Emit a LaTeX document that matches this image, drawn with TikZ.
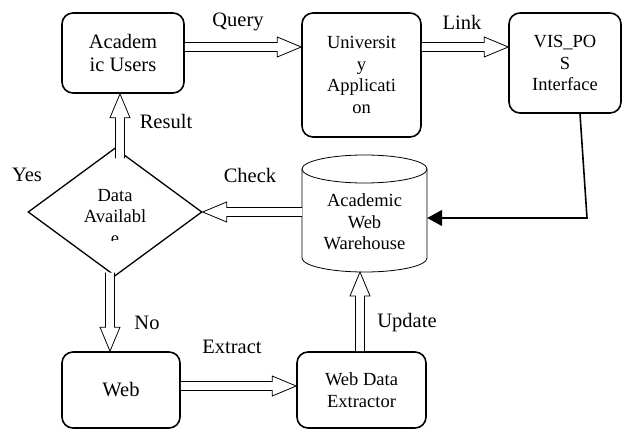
\documentclass[tikz,border=0pt]{standalone}
\usepackage{fontspec}
\setmainfont{Liberation Serif}
\usetikzlibrary{calc,shapes.geometric,arrows.meta}
\newcommand{\blockarrow}[2]{%
  \coordinate (ba-c) at ($(#2)!24pt!(#1)$);
  \filldraw[blockline]
    ($(#1)!4.5pt!90:(#2)$) -- ($(ba-c)!4.5pt!90:(#2)$) -- ($(ba-c)!10pt!90:(#2)$)
    -- (#2) -- ($(ba-c)!10pt!-90:(#2)$) -- ($(ba-c)!4.5pt!-90:(#2)$) -- ($(#1)!4.5pt!-90:(#2)$);
}
\begin{document}
\begin{tikzpicture}[x=1pt,y=1pt,
  box/.style={draw, line width=1.6pt, rounded corners=11pt, align=center, inner sep=0pt},
  bigtxt/.style={font=\fontsize{20.5}{23}\selectfont},
  smalltxt/.style={font=\fontsize{18.5}{21.5}\selectfont},
  lbl/.style={bigtxt, inner sep=0pt},
  blockline/.style={fill=white, draw=black, line width=0.8pt, line join=miter}]
\useasboundingbox (0,0) rectangle (623,-430);

% boxes
\node[box, bigtxt, minimum width=122pt, minimum height=80pt] (users) at (123,-53) {Academ\\ic Users};
\node[box, smalltxt, minimum width=119pt, minimum height=124pt] (univ) at (361.5,-75) {Universit\\y\\Applicati\\on};
\node[box, smalltxt, minimum width=112pt, minimum height=100pt] (vis) at (565,-63) {VIS\_PO\\S\\Interface};
\node[box, bigtxt, minimum width=118pt, minimum height=76pt] (web) at (121,-390) {Web};
\node[box, smalltxt, minimum width=129pt, minimum height=76pt] (wde) at (361.5,-390) {Web Data\\Extractor};

% diamond
\node[diamond, draw, line width=1.3pt, minimum width=174pt, minimum height=128pt, inner sep=0pt] (dia) at (115,-212) {};
\node[smalltxt, align=center, inner sep=0pt] (diatext) at (115,-206) {Data\\Availabl};
\begin{scope}
  \clip (80,-222) rectangle (150,-240);
  \node[smalltxt, inner sep=0pt] (diae) at (115,-240) {e};
\end{scope}

% cylinder
\draw[line width=0.8pt] (302,-169) -- (302,-258) arc[start angle=180, end angle=360, x radius=62.5, y radius=14] -- (427,-169);
\draw[line width=0.8pt] (364.5,-169) ellipse [x radius=62.5, y radius=14];
\node[smalltxt, align=center, minimum width=125pt, minimum height=89pt, inner sep=0pt] (cyl) at (364.5,-213.5) {};
\node[smalltxt, align=center, inner sep=0pt] (cyltext) at (364.5,-222) {Academic\\Web\\Warehouse};
\coordinate (cylbot) at (364.5,-272);

% block arrows
\coordinate (q1) at ([yshift=6pt]users.east);
\coordinate (q2) at (univ.west |- q1);
\blockarrow{q1}{q2}
\coordinate (l1) at (univ.east |- q1);
\coordinate (l2) at (vis.west |- q1);
\blockarrow{l1}{l2}
\coordinate (r1) at ([shift={(5pt,-11pt)}]dia.north);
\coordinate (r2) at (r1 |- users.south);
\blockarrow{r1}{r2}
\coordinate (k1) at (cyl.west |- dia.east);
\blockarrow{k1}{dia.east}
\coordinate (n1) at ([shift={(-5pt,4pt)}]dia.south);
\coordinate (n2) at (n1 |- web.north);
\blockarrow{n1}{n2}
\coordinate (e1) at ([yshift=4pt]web.east);
\coordinate (e2) at (wde.west |- e1);
\blockarrow{e1}{e2}
\coordinate (u1) at ([xshift=-1.5pt]wde.north);
\coordinate (u2) at (u1 |- cylbot);
\blockarrow{u1}{u2}

% VIS_POS connector
\coordinate (corner) at (587,-218);
\draw[line width=1.6pt, -{Triangle[length=15pt, width=16pt]}] ([xshift=15pt]vis.south) -- (corner) -- (cyl.east |- corner);

% labels
\node[lbl] (lq) at (238,-22) {Query};
\node[lbl] (ll) at (462,-22) {Link};
\node[lbl] (lr) at (166,-121) {Result};
\node[lbl] (ly) at (27,-175) {Yes};
\node[lbl] (lc) at (250,-175) {Check};
\node[lbl] (ln) at (147,-323) {No};
\node[lbl] (le) at (232,-347) {Extract};
\node[lbl] (lu) at (407,-323) {Update};
\end{tikzpicture}
\end{document}
